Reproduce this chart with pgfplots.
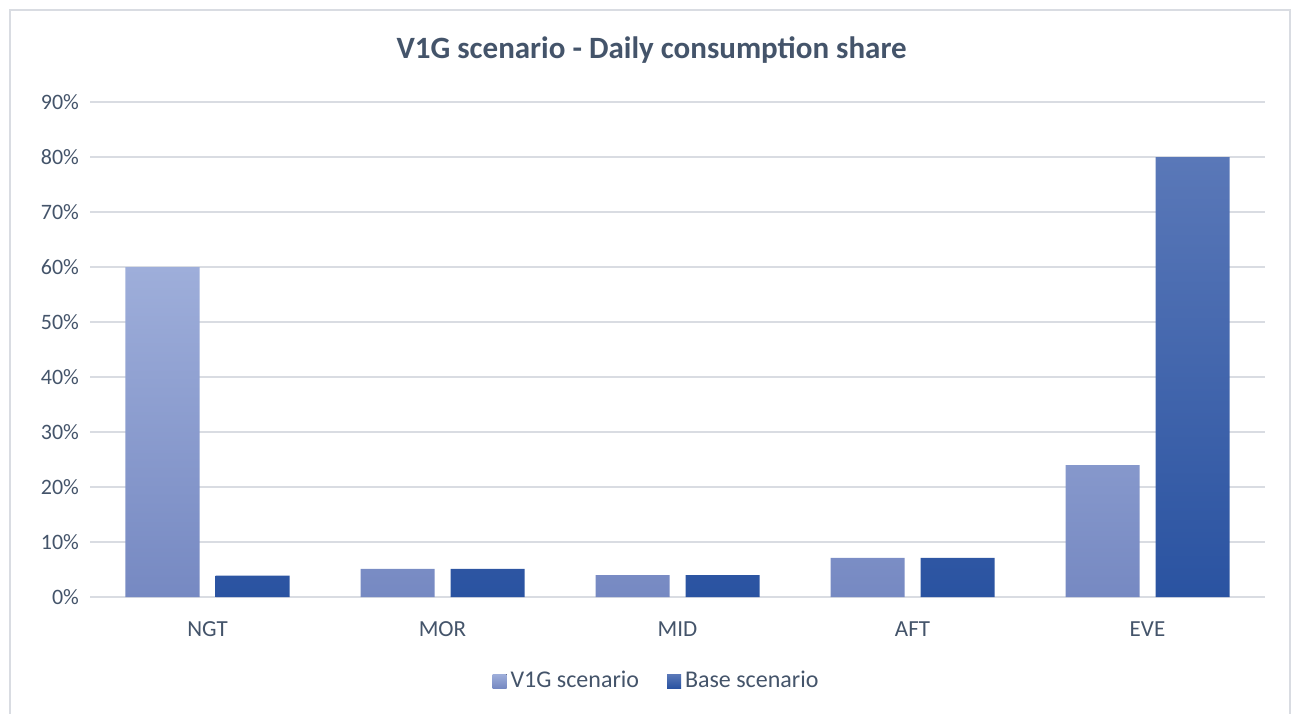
\documentclass[border=0pt]{standalone}
\usepackage{pgfplots}
\pgfplotsset{compat=1.18}
\usepackage{fontspec}
\setmainfont{Carlito}
\definecolor{txt}{RGB}{68,84,106}
\definecolor{gridc}{RGB}{217,220,226}
\definecolor{vtop}{RGB}{158,174,218}
\definecolor{vbot}{RGB}{118,137,194}
\definecolor{btop}{RGB}{90,120,184}
\definecolor{bbot}{RGB}{42,83,161}
\begin{document}
\begin{tikzpicture}
\useasboundingbox (0pt,0pt) rectangle (650pt,356.5pt);
\draw[gridc, line width=0.6pt] (5pt,-1pt) -- (5pt,351.5pt) -- (645pt,351.5pt) -- (645pt,-1pt);
\begin{axis}[
  at={(45pt,58pt)}, anchor=south west,
  scale only axis, width=587.5pt, height=247.5pt,
  xmin=-0.5, xmax=4.5, ymin=0, ymax=90,
  xtick={0,1,2,3,4}, xticklabels={NGT,MOR,MID,AFT,EVE},
  ytick={0,10,...,90},
  yticklabel={\pgfmathprintnumber{\tick}\%},
  /pgf/number format/assume math mode=true,
  ymajorgrids, grid style={gridc, line width=0.8pt},
  axis line style={draw=none},
  major tick length=0pt,
  tick label style={font=\fontsize{11}{13}\selectfont, text=txt},
  yticklabel style={xshift=-2pt},
  xticklabel style={yshift=-9pt, font=\fontsize{11.5}{13}\selectfont},
  ybar, bar width=37pt,
  title={V1G scenario - Daily consumption share},
  title style={font=\fontsize{15.5}{18}\selectfont\bfseries, text=txt, at={(0.478,1)}, yshift=10pt},
  legend style={at={(0.483,-0.17)}, anchor=center, draw=none, font=\fontsize{12}{14}\selectfont, text=txt,
    legend columns=2, /tikz/every even column/.append style={column sep=12pt}},
  legend image code/.code={\fill[#1] (0pt,-3.5pt) rectangle (7pt,3.5pt);},
  clip=false,
]
\addplot[draw=none, bar shift=-22.5pt, top color=vtop, bottom color=vbot] coordinates {(0,60) (1,5.1) (2,4) (3,7.1) (4,24)};
\addplot[draw=none, bar shift=22.5pt, top color=btop, bottom color=bbot] coordinates {(0,3.9) (1,5.1) (2,4) (3,7.1) (4,80)};
\legend{V1G scenario, Base scenario}
\end{axis}
\end{tikzpicture}
\end{document}
